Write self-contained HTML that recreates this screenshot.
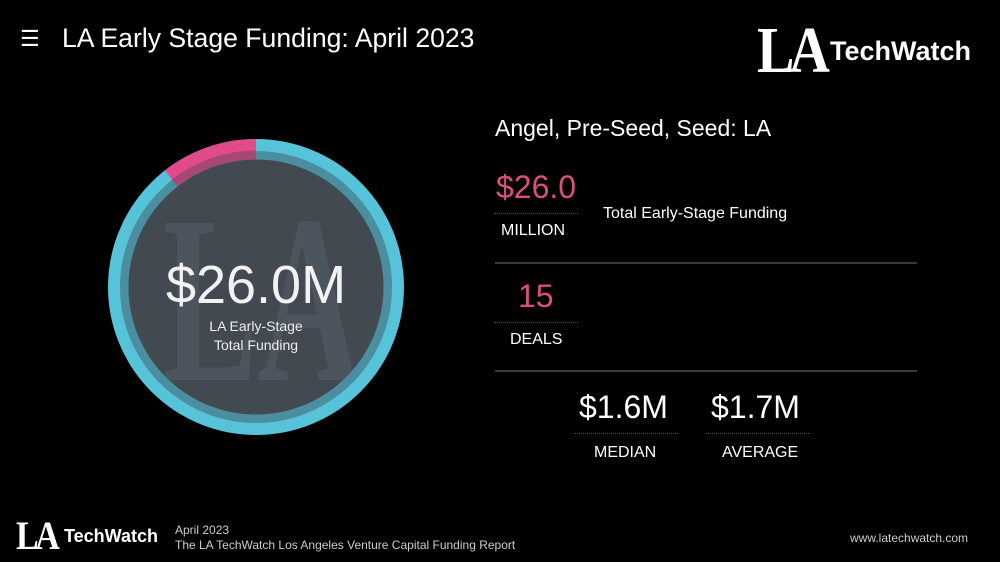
<!DOCTYPE html>
<html><head><meta charset="utf-8"><style>
body{margin:0;background:#000;width:1000px;height:562px;overflow:hidden;position:relative;font-family:"Liberation Sans",sans-serif;color:#fff}
.a{position:absolute;white-space:nowrap}
.dot{position:absolute;border-top:1px dotted #555;height:0}
.hr{position:absolute;height:2px;background:#3a3a3a;left:495px;width:422px}
</style></head><body>
<div class="a" style="left:20px;top:28px;font-size:22px;line-height:22px">☰</div>
<div class="a" style="left:62px;top:23px;font-size:26.6px">LA Early Stage Funding: April 2023</div>
<div class="a" style="left:757px;top:18px;font-family:'Liberation Serif',serif;font-weight:bold;font-size:66px;line-height:66px;letter-spacing:-6px;transform:scaleX(0.85);transform-origin:left">LA</div>
<div class="a" style="left:830px;top:36px;font-weight:bold;font-size:27px">TechWatch</div>

<svg class="a" style="left:0;top:0" width="520" height="480">
<defs><clipPath id="c"><circle cx="256" cy="287" r="128"/></clipPath></defs>
<circle cx="256" cy="287" r="128" fill="#424951"/>
<text x="163" y="380" clip-path="url(#c)" textLength="197" lengthAdjust="spacingAndGlyphs" font-family="Liberation Serif,serif" font-weight="bold" font-size="240" fill="#4c545d">LA</text>
<circle cx="256" cy="287" r="132" fill="none" stroke="#4b8ea0" stroke-width="9"/>
<circle cx="256" cy="287" r="142" fill="none" stroke="#57c3d9" stroke-width="12"/>
<path d="M 168.6 175.1 A 142 142 0 0 1 256 145" fill="none" stroke="#e24b89" stroke-width="12"/>
<path d="M 174.7 183 A 132 132 0 0 1 256 155" fill="none" stroke="#a74775" stroke-width="9"/>
</svg>
<div class="a" style="left:256px;top:254px;transform:translateX(-50%);font-size:54px;color:#f2f2f2">$26.0M</div>
<div class="a" style="left:256px;top:317px;transform:translateX(-50%);font-size:14px;text-align:center;line-height:19px;color:#eee">LA Early-Stage<br>Total Funding</div>

<div class="a" style="left:495px;top:115px;font-size:23px">Angel, Pre-Seed, Seed: LA</div>
<div class="a" style="left:496px;top:169px;font-size:32px;color:#d9507f">$26.0</div>
<div class="dot" style="left:494px;top:213px;width:84px"></div>
<div class="a" style="left:501px;top:222px;font-size:16px">MILLION</div>
<div class="a" style="left:603px;top:205px;font-size:16px">Total Early-Stage Funding</div>
<div class="hr" style="top:262px"></div>
<div class="a" style="left:518px;top:278px;font-size:32px;color:#d9507f">15</div>
<div class="dot" style="left:494px;top:322px;width:84px"></div>
<div class="a" style="left:510px;top:331px;font-size:16px">DEALS</div>
<div class="hr" style="top:370px"></div>
<div class="a" style="left:579px;top:389px;font-size:32px">$1.6M</div>
<div class="dot" style="left:575px;top:433px;width:103px"></div>
<div class="a" style="left:594px;top:444px;font-size:16px">MEDIAN</div>
<div class="a" style="left:711px;top:389px;font-size:32px">$1.7M</div>
<div class="dot" style="left:706px;top:433px;width:103px"></div>
<div class="a" style="left:722px;top:444px;font-size:16px">AVERAGE</div>

<div class="a" style="left:16px;top:516px;font-family:'Liberation Serif',serif;font-weight:bold;font-size:40px;line-height:40px;letter-spacing:-4px;transform:scaleX(0.85);transform-origin:left">LA</div>
<div class="a" style="left:64px;top:526px;font-weight:bold;font-size:18px">TechWatch</div>
<div class="a" style="left:175px;top:523px;font-size:12px;color:#ccc;line-height:15px">April 2023<br>The LA TechWatch Los Angeles Venture Capital Funding Report</div>
<div class="a" style="left:850px;top:531px;font-size:12px;color:#ccc">www.latechwatch.com</div>
</body></html>
